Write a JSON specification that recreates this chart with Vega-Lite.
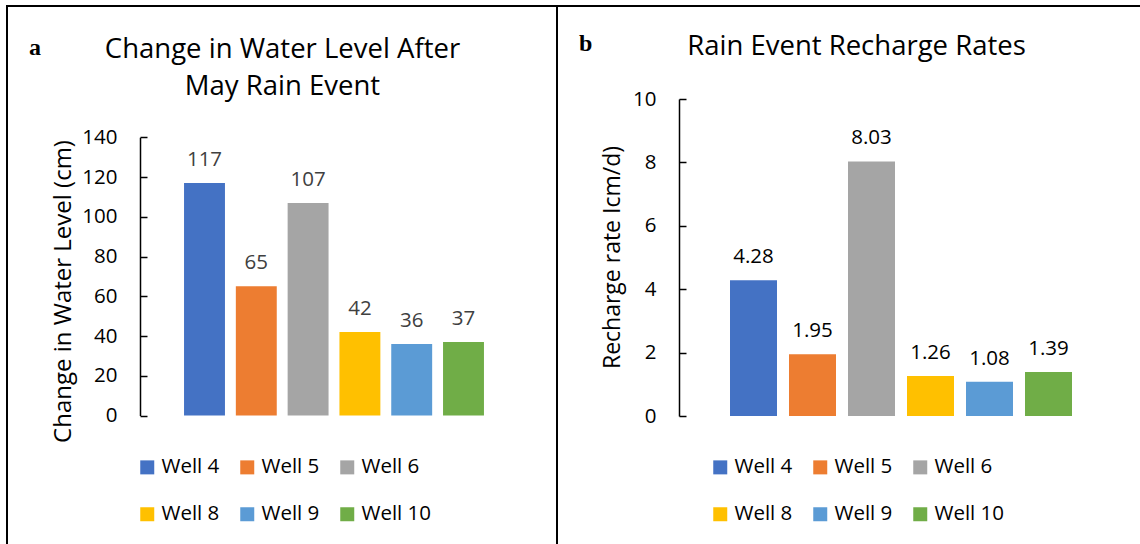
{
  "$schema": "https://vega.github.io/schema/vega-lite/v6.json",
  "background": "white",
  "padding": {"left": 6, "top": 5, "right": -2, "bottom": -3},
  "spacing": 0,
  "bounds": "flush",
  "config": {
    "view": {"stroke": "#000000", "strokeWidth": 2},
    "font": "Open Sans"
  },
  "resolve": {
    "scale": {"x": "independent", "y": "independent", "color": "independent"},
    "axis": {"x": "independent", "y": "independent"},
    "legend": {"color": "independent"}
  },
  "hconcat": [
    {
      "width": 550,
      "height": 540,
      "title": {"text": "a", "anchor": "start", "frame": "group", "font": "Liberation Serif", "fontWeight": "bold", "fontSize": 24, "color": "#000000", "offset": 0, "baseline": "alphabetic", "dx": 22, "dy": 73},
      "data": {"values": [
        {"well": "Well 4", "change": 117},
        {"well": "Well 5", "change": 65},
        {"well": "Well 6", "change": 107},
        {"well": "Well 8", "change": 42},
        {"well": "Well 9", "change": 36},
        {"well": "Well 10", "change": 37}
      ]},
      "encoding": {
        "x": {"field": "well", "type": "nominal", "sort": null,
          "scale": {"domain": ["Well 4", "Well 5", "Well 6", "Well 8", "Well 9", "Well 10"], "range": [171.6, 482.4], "paddingInner": 0.21, "paddingOuter": 0.105},
          "axis": {"orient": "top", "domain": false, "ticks": false, "labels": false, "grid": false,
            "title": ["Change in Water Level After", "May Rain Event"], "titleFont": "Open Sans", "titleFontSize": 27.5, "titleFontWeight": "normal", "titleColor": "#000000",
            "titleX": 275, "titleY": 51, "titleAlign": "center", "titleBaseline": "alphabetic", "titleLineHeight": 37}},
        "y": {"field": "change", "type": "quantitative",
          "scale": {"domain": [0, 140], "range": [409.5, 131.3], "nice": false, "zero": true},
          "axis": {"orient": "left", "offset": -133, "values": [0, 20, 40, 60, 80, 100, 120, 140], "grid": false,
            "domainColor": "#000000", "domainWidth": 1.5, "tickColor": "#000000", "tickWidth": 1.5, "tickSize": -7, "labelPadding": 30,
            "labelFont": "Open Sans", "labelFontSize": 20.5, "labelColor": "#000000",
            "title": "Change in Water Level (cm)", "titleFont": "Open Sans", "titleFontSize": 24, "titleFontWeight": "normal", "titleColor": "#000000",
            "titleX": -70, "titleY": 285, "titleAngle": -90, "titleAlign": "center", "titleBaseline": "alphabetic"}}
      },
      "layer": [
        {"mark": {"type": "bar"},
          "encoding": {"color": {"field": "well", "type": "nominal",
            "scale": {"domain": ["Well 4", "Well 5", "Well 6", "Well 8", "Well 9", "Well 10"], "range": ["#4472C4", "#ED7D31", "#A5A5A5", "#FFC000", "#5B9BD5", "#70AD47"]},
            "legend": {"orient": "none", "direction": "horizontal", "legendX": 130, "legendY": 451, "columns": 3, "title": null, "symbolType": "square", "symbolSize": 196, "symbolStrokeWidth": 0,
              "labelFont": "Open Sans", "labelFontSize": 20.5, "labelColor": "#000000", "labelOffset": 4, "columnPadding": 5, "rowPadding": 26, "gridAlign": "all", "padding": 0}}}},
        {"mark": {"type": "text", "dy": -17, "baseline": "alphabetic", "fontSize": 20.5, "font": "Open Sans", "color": "#404040"},
          "encoding": {"text": {"field": "change", "type": "quantitative", "format": ".0f"}}}
      ]
    },
    {
      "width": 584,
      "height": 540,
      "title": {"text": "b", "anchor": "start", "frame": "group", "font": "Liberation Serif", "fontWeight": "bold", "fontSize": 24, "color": "#000000", "offset": 0, "baseline": "alphabetic", "dx": 22, "dy": 69},
      "data": {"values": [
        {"well": "Well 4", "rate": 4.28},
        {"well": "Well 5", "rate": 1.95},
        {"well": "Well 6", "rate": 8.03},
        {"well": "Well 8", "rate": 1.26},
        {"well": "Well 9", "rate": 1.08},
        {"well": "Well 10", "rate": 1.39}
      ]},
      "encoding": {
        "x": {"field": "well", "type": "nominal", "sort": null,
          "scale": {"domain": ["Well 4", "Well 5", "Well 6", "Well 8", "Well 9", "Well 10"], "range": [167, 521], "paddingInner": 0.2034, "paddingOuter": 0.1017},
          "axis": {"orient": "top", "domain": false, "ticks": false, "labels": false, "grid": false,
            "title": "Rain Event Recharge Rates", "titleFont": "Open Sans", "titleFontSize": 27.5, "titleFontWeight": "normal", "titleColor": "#000000",
            "titleX": 299, "titleY": 48, "titleAlign": "center", "titleBaseline": "alphabetic"}},
        "y": {"field": "rate", "type": "quantitative",
          "scale": {"domain": [0, 10], "range": [410, 93], "nice": false, "zero": true},
          "axis": {"orient": "left", "offset": -122, "values": [0, 2, 4, 6, 8, 10], "grid": false,
            "domainColor": "#000000", "domainWidth": 1.5, "tickColor": "#000000", "tickWidth": 1.5, "tickSize": -7, "labelPadding": 30,
            "labelFont": "Open Sans", "labelFontSize": 20.5, "labelColor": "#000000",
            "title": "Recharge rate Icm/d)", "titleFont": "Open Sans", "titleFontSize": 23, "titleFontWeight": "normal", "titleColor": "#000000",
            "titleX": -60, "titleY": 251, "titleAngle": -90, "titleAlign": "center", "titleBaseline": "alphabetic"}}
      },
      "layer": [
        {"mark": {"type": "bar"},
          "encoding": {"color": {"field": "well", "type": "nominal",
            "scale": {"domain": ["Well 4", "Well 5", "Well 6", "Well 8", "Well 9", "Well 10"], "range": ["#4472C4", "#ED7D31", "#A5A5A5", "#FFC000", "#5B9BD5", "#70AD47"]},
            "legend": {"orient": "none", "direction": "horizontal", "legendX": 153, "legendY": 451, "columns": 3, "title": null, "symbolType": "square", "symbolSize": 196, "symbolStrokeWidth": 0,
              "labelFont": "Open Sans", "labelFontSize": 20.5, "labelColor": "#000000", "labelOffset": 4, "columnPadding": 5, "rowPadding": 26, "gridAlign": "all", "padding": 0}}}},
        {"mark": {"type": "text", "dy": -17, "baseline": "alphabetic", "fontSize": 20.5, "font": "Open Sans", "color": "#000000"},
          "encoding": {"text": {"field": "rate", "type": "quantitative", "format": ".2f"}}}
      ]
    }
  ]
}
